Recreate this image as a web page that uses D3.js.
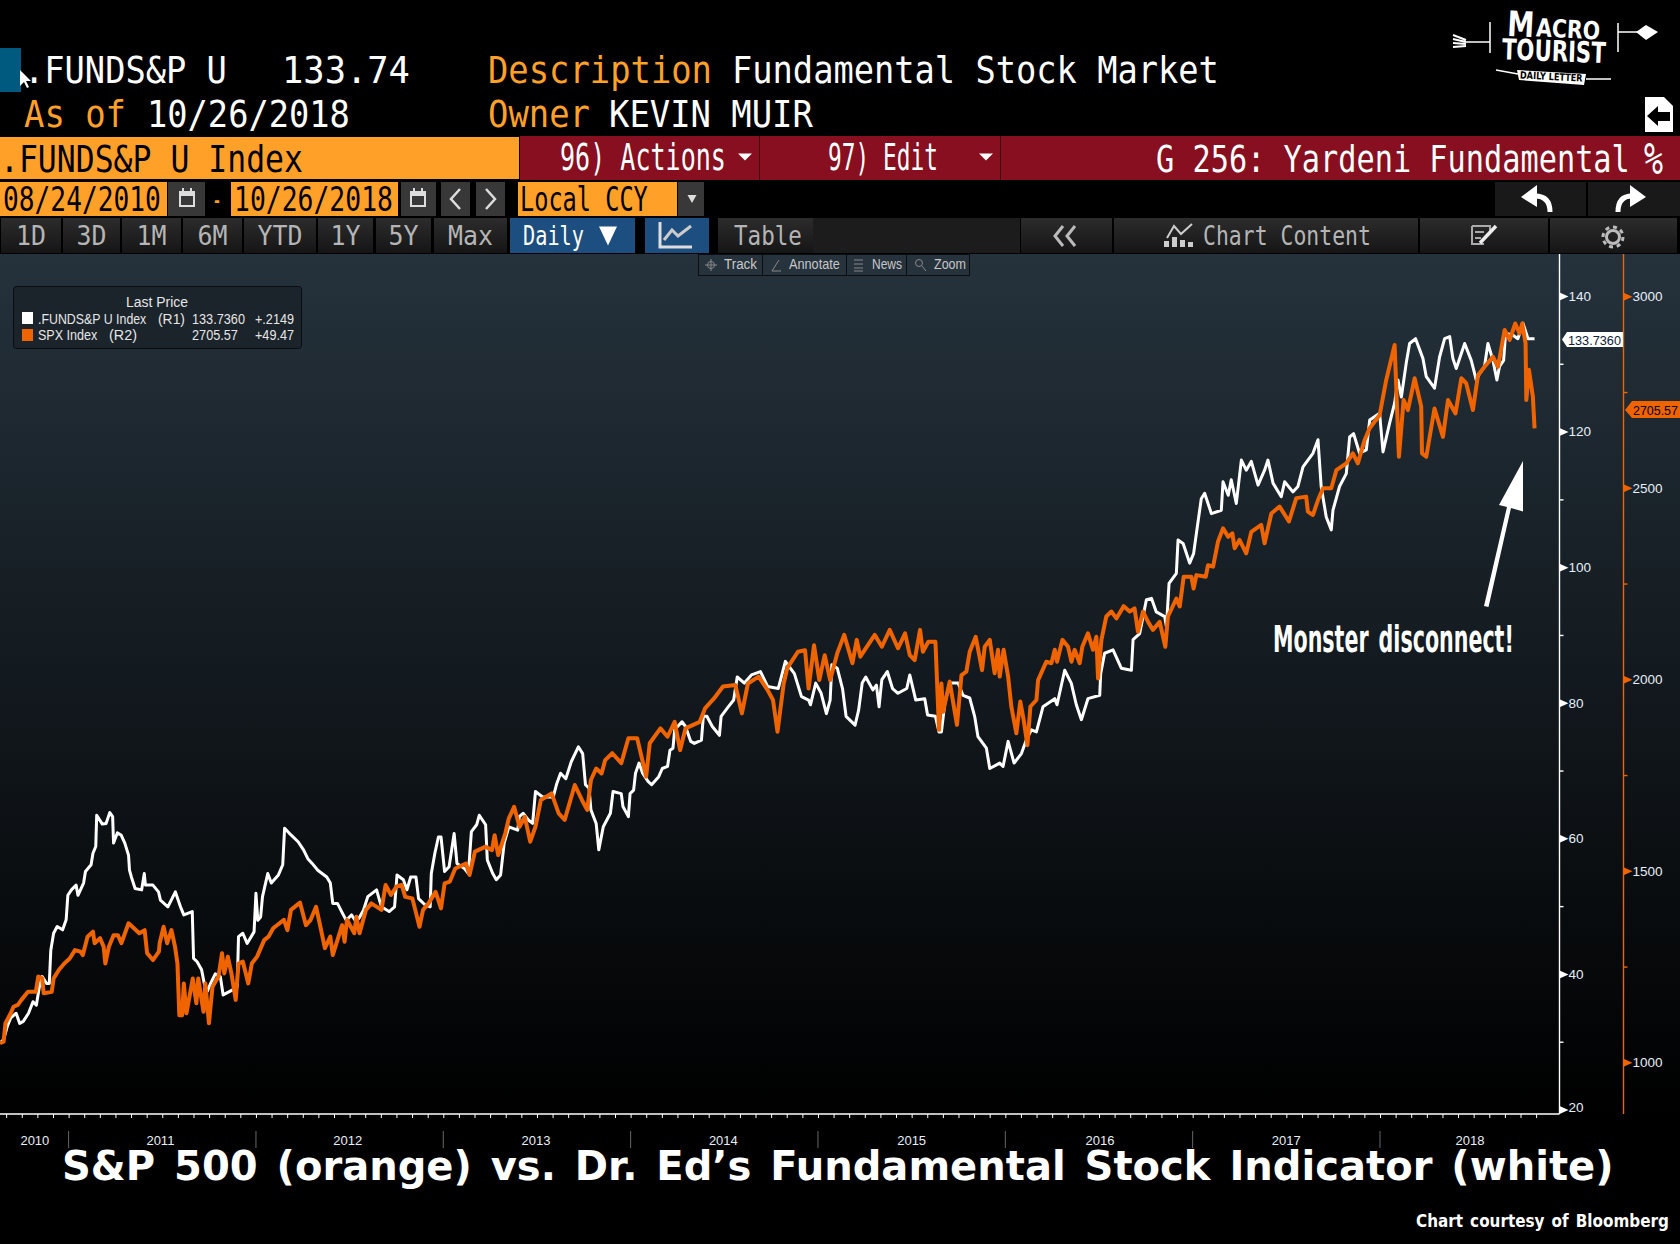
<!DOCTYPE html>
<html>
<head>
<meta charset="utf-8">
<title>S&amp;P 500 vs Fundamental Stock Indicator</title>
<script src="https://cdn.jsdelivr.net/npm/d3@7"></script>
<style>
  html, body { margin: 0; background: #000; }
  svg { display: block; }
</style>
</head>
<body>
<div id="chart"></div>
<script>
// values, dates as decimal years
const fundDates = [
  2010.634, 2010.653, 2010.672, 2010.691, 2010.72, 2010.739, 2010.758, 2010.786, 2010.81, 2010.828,
  2010.844, 2010.859, 2010.882, 2010.897, 2010.905, 2010.92, 2010.939, 2010.968, 2010.987, 2010.996,
  2011.015, 2011.04, 2011.05, 2011.08, 2011.09, 2011.12, 2011.13, 2011.145, 2011.15, 2011.18,
  2011.2, 2011.22, 2011.235, 2011.24, 2011.26, 2011.28, 2011.3, 2011.32, 2011.325, 2011.335,
  2011.355, 2011.39, 2011.404, 2011.41, 2011.45, 2011.48, 2011.49, 2011.53, 2011.57, 2011.6,
  2011.615, 2011.66, 2011.667, 2011.686, 2011.71, 2011.724, 2011.74, 2011.758, 2011.783, 2011.81,
  2011.825, 2011.873, 2011.9, 2011.907, 2011.93, 2011.953, 2011.99, 2012.0, 2012.01, 2012.025,
  2012.035, 2012.063, 2012.082, 2012.12, 2012.143, 2012.153, 2012.187, 2012.225, 2012.254, 2012.277,
  2012.3, 2012.33, 2012.378, 2012.397, 2012.41, 2012.435, 2012.463, 2012.482, 2012.51, 2012.53,
  2012.55, 2012.574, 2012.597, 2012.644, 2012.654, 2012.67, 2012.711, 2012.74, 2012.753, 2012.787,
  2012.806, 2012.826, 2012.854, 2012.868, 2012.902, 2012.93, 2012.936, 2012.955, 2012.974, 2012.988,
  2013.007, 2013.031, 2013.058, 2013.073, 2013.111, 2013.134, 2013.15, 2013.178, 2013.192, 2013.226,
  2013.235, 2013.264, 2013.283, 2013.306, 2013.325, 2013.35, 2013.397, 2013.406, 2013.426, 2013.454,
  2013.477, 2013.492, 2013.53, 2013.587, 2013.606, 2013.626, 2013.654, 2013.683, 2013.721, 2013.744,
  2013.759, 2013.778, 2013.788, 2013.816, 2013.83, 2013.854, 2013.892, 2013.906, 2013.95, 2013.959,
  2013.988, 2013.997, 2014.016, 2014.026, 2014.045, 2014.064, 2014.093, 2014.112, 2014.15, 2014.169,
  2014.197, 2014.21, 2014.226, 2014.235, 2014.274, 2014.293, 2014.321, 2014.34, 2014.378, 2014.388,
  2014.407, 2014.436, 2014.474, 2014.483, 2014.521, 2014.55, 2014.569, 2014.607, 2014.645, 2014.693,
  2014.731, 2014.788, 2014.826, 2014.874, 2014.912, 2014.95, 2014.96, 2014.988, 2015.017, 2015.045,
  2015.065, 2015.074, 2015.103, 2015.131, 2015.15, 2015.198, 2015.217, 2015.236, 2015.255, 2015.293,
  2015.312, 2015.326, 2015.341, 2015.37, 2015.398, 2015.427, 2015.474, 2015.49, 2015.522, 2015.57,
  2015.585, 2015.627, 2015.646, 2015.659, 2015.677, 2015.703, 2015.748, 2015.774, 2015.81, 2015.837,
  2015.854, 2015.899, 2015.917, 2015.97, 2015.988, 2016.015, 2016.047, 2016.086, 2016.112, 2016.139,
  2016.166, 2016.201, 2016.264, 2016.276, 2016.317, 2016.352, 2016.379, 2016.406, 2016.441, 2016.504,
  2016.509, 2016.53, 2016.575, 2016.619, 2016.673, 2016.682, 2016.717, 2016.753, 2016.78, 2016.806,
  2016.851, 2016.86, 2016.874, 2016.913, 2016.922, 2016.949, 2016.984, 2017.005, 2017.02, 2017.046,
  2017.064, 2017.1, 2017.153, 2017.162, 2017.19, 2017.206, 2017.233, 2017.26, 2017.286, 2017.313,
  2017.349, 2017.384, 2017.402, 2017.429, 2017.473, 2017.491, 2017.535, 2017.562, 2017.589, 2017.642,
  2017.669, 2017.686, 2017.713, 2017.74, 2017.749, 2017.784, 2017.82, 2017.838, 2017.859, 2017.891,
  2017.927, 2017.945, 2017.998, 2018.016, 2018.051, 2018.078, 2018.096, 2018.114, 2018.14, 2018.158,
  2018.19, 2018.229, 2018.247, 2018.291, 2018.318, 2018.345, 2018.372, 2018.389, 2018.407, 2018.452,
  2018.487, 2018.514, 2018.532, 2018.558, 2018.576, 2018.603, 2018.624, 2018.638, 2018.66, 2018.67,
  2018.71, 2018.736, 2018.763, 2018.79, 2018.825,
];
const fundValues = [
  29.8, 30.3, 32.2, 33.5, 34.2, 32.7, 33.0, 34.2, 35.9, 35.4,
  38.1, 39.6, 38.6, 38.6, 43.5, 46.0, 47.0, 46.5, 48.0, 51.6,
  52.4, 53.1, 51.6, 53.4, 55.1, 56.1, 57.8, 58.8, 63.4, 62.1,
  62.2, 63.8, 63.2, 59.3, 60.8, 60.5, 59.3, 57.5, 55.3, 54.3,
  52.6, 52.4, 54.8, 53.1, 53.1, 52.1, 50.9, 49.9, 52.1, 49.7,
  48.7, 49.2, 42.3, 41.8, 40.6, 38.6, 37.4, 38.6, 40.0, 39.6,
  36.9, 37.6, 38.1, 45.5, 46.0, 44.5, 46.2, 51.9, 47.9, 48.4,
  51.4, 54.8, 53.4, 54.6, 56.1, 61.5, 60.5, 59.5, 58.3, 57.0,
  56.3, 55.3, 54.3, 53.4, 50.4, 50.4, 48.9, 47.9, 48.7, 47.9,
  48.2, 49.4, 51.4, 52.4, 51.4, 49.9, 49.2, 49.9, 54.6, 53.9,
  52.4, 54.3, 54.3, 51.1, 50.2, 49.9, 54.8, 57.8, 60.2, 60.2,
  55.1, 55.8, 60.7, 56.3, 55.6, 54.8, 61.0, 62.0, 63.4, 62.0,
  56.8, 54.8, 53.9, 54.6, 59.3, 61.7, 61.2, 63.2, 63.7, 62.7,
  62.2, 66.9, 66.1, 66.1, 68.1, 69.6, 68.8, 71.3, 73.5, 72.5,
  67.9, 67.4, 64.2, 62.2, 58.3, 61.7, 63.7, 66.9, 66.6, 64.7,
  63.2, 66.6, 67.1, 69.6, 71.1, 69.6, 68.4, 67.9, 69.1, 70.3,
  70.6, 73.0, 73.3, 76.0, 77.2, 76.5, 74.3, 74.0, 74.5, 78.0,
  78.0, 76.5, 75.2, 78.0, 79.4, 80.4, 83.8, 82.9, 84.1, 84.6,
  82.4, 82.1, 86.1, 84.3, 80.9, 80.4, 79.7, 82.9, 81.4, 78.4,
  80.4, 85.6, 85.1, 82.1, 78.0, 76.7, 78.9, 82.9, 83.8, 81.9,
  82.6, 79.4, 83.4, 84.6, 82.1, 81.4, 82.1, 84.1, 80.4, 80.6,
  78.2, 78.0, 75.7, 75.7, 79.9, 82.9, 82.9, 81.1, 80.7, 77.9,
  75.0, 73.3, 70.3, 71.1, 70.6, 74.3, 71.1, 72.5, 74.5, 76.0,
  75.7, 79.4, 80.6, 79.7, 84.8, 82.9, 79.7, 77.5, 80.6, 81.1,
  84.3, 87.3, 87.8, 85.1, 84.8, 89.3, 90.2, 95.2, 95.4, 93.4,
  92.7, 91.2, 97.6, 99.1, 104.0, 103.5, 100.6, 102.0, 105.0, 110.1,
  110.9, 107.9, 108.4, 112.6, 110.6, 112.9, 109.4, 115.8, 114.3, 115.6,
  112.1, 114.3, 115.8, 112.4, 110.4, 112.6, 111.1, 111.9, 114.8, 116.8,
  118.8, 111.9, 107.4, 105.5, 108.4, 111.9, 113.8, 119.2, 119.7, 116.8,
  117.3, 121.7, 122.7, 117.0, 121.2, 124.2, 127.6, 125.1, 130.1, 133.0,
  133.7, 130.8, 128.1, 126.4, 131.0, 133.7, 134.0, 130.8, 129.3, 133.0,
  130.5, 127.6, 128.6, 129.6, 133.0, 130.5, 127.6, 129.6, 130.5, 134.5,
  134.2, 133.7, 136.0, 133.7, 133.7,
];
const spxDates = [
  2010.634, 2010.653, 2010.663, 2010.691, 2010.706, 2010.729, 2010.748, 2010.783, 2010.825, 2010.838,
  2010.859, 2010.867, 2010.91, 2010.92, 2010.948, 2010.977, 2011.006, 2011.034, 2011.063, 2011.076,
  2011.101, 2011.13, 2011.139, 2011.168, 2011.187, 2011.196, 2011.215, 2011.24, 2011.263, 2011.282,
  2011.32, 2011.349, 2011.377, 2011.406, 2011.419, 2011.45, 2011.482, 2011.486, 2011.507, 2011.526,
  2011.549, 2011.568, 2011.581, 2011.591, 2011.606, 2011.615, 2011.629, 2011.663, 2011.682, 2011.692,
  2011.72, 2011.73, 2011.749, 2011.768, 2011.8, 2011.819, 2011.831, 2011.85, 2011.869, 2011.892,
  2011.907, 2011.93, 2011.959, 2011.978, 2012.006, 2012.044, 2012.067, 2012.092, 2012.149, 2012.168,
  2012.187, 2012.235, 2012.267, 2012.292, 2012.321, 2012.34, 2012.368, 2012.397, 2012.41, 2012.435,
  2012.46, 2012.473, 2012.486, 2012.525, 2012.536, 2012.553, 2012.587, 2012.616, 2012.67, 2012.692,
  2012.721, 2012.75, 2012.778, 2012.797, 2012.835, 2012.873, 2012.892, 2012.921, 2012.959, 2012.988,
  2013.007, 2013.035, 2013.064, 2013.121, 2013.14, 2013.169, 2013.226, 2013.26, 2013.274, 2013.293,
  2013.331, 2013.35, 2013.378, 2013.407, 2013.435, 2013.464, 2013.492, 2013.521, 2013.578, 2013.616,
  2013.648, 2013.702, 2013.74, 2013.768, 2013.788, 2013.816, 2013.845, 2013.864, 2013.902, 2013.95,
  2013.988, 2014.035, 2014.083, 2014.102, 2014.159, 2014.197, 2014.235, 2014.264, 2014.293, 2014.369,
  2014.397, 2014.445, 2014.493, 2014.559, 2014.594, 2014.626, 2014.683, 2014.731, 2014.76, 2014.784,
  2014.817, 2014.836, 2014.893, 2014.931, 2014.95, 2014.979, 2015.007, 2015.036, 2015.065, 2015.103,
  2015.14, 2015.184, 2015.207, 2015.226, 2015.303, 2015.341, 2015.383, 2015.427, 2015.465, 2015.49,
  2015.516, 2015.545, 2015.56, 2015.589, 2015.627, 2015.646, 2015.659, 2015.668, 2015.703, 2015.742,
  2015.766, 2015.792, 2015.81, 2015.842, 2015.876, 2015.89, 2015.917, 2015.943, 2015.961, 2015.97,
  2015.991, 2016.015, 2016.032, 2016.059, 2016.08, 2016.098, 2016.118, 2016.134, 2016.166, 2016.175,
  2016.219, 2016.246, 2016.264, 2016.276, 2016.305, 2016.335, 2016.353, 2016.37, 2016.397, 2016.411,
  2016.441, 2016.468, 2016.486, 2016.495, 2016.513, 2016.539, 2016.566, 2016.593, 2016.632, 2016.664,
  2016.69, 2016.708, 2016.735, 2016.762, 2016.788, 2016.824, 2016.854, 2016.868, 2016.913, 2016.931,
  2016.952, 2016.993, 2017.005, 2017.02, 2017.07, 2017.082, 2017.109, 2017.135, 2017.162, 2017.19,
  2017.212, 2017.224, 2017.25, 2017.286, 2017.313, 2017.366, 2017.384, 2017.42, 2017.464, 2017.514,
  2017.553, 2017.606, 2017.615, 2017.642, 2017.669, 2017.696, 2017.74, 2017.767, 2017.82, 2017.855,
  2017.882, 2017.918, 2017.944, 2017.998, 2018.033, 2018.078, 2018.101, 2018.126, 2018.149, 2018.185,
  2018.22, 2018.224, 2018.247, 2018.291, 2018.336, 2018.363, 2018.403, 2018.434, 2018.46, 2018.496,
  2018.523, 2018.558, 2018.603, 2018.63, 2018.665, 2018.692, 2018.722, 2018.745, 2018.759, 2018.777,
  2018.781, 2018.795, 2018.816, 2018.825,
];
const spxValues = [
  1050, 1054, 1102, 1128, 1145, 1150, 1163, 1184, 1184, 1224,
  1219, 1180, 1184, 1219, 1241, 1258, 1271, 1293, 1289, 1280,
  1328, 1341, 1311, 1324, 1302, 1258, 1302, 1332, 1332, 1311,
  1363, 1350, 1337, 1345, 1285, 1267, 1289, 1311, 1354, 1311,
  1345, 1302, 1258, 1123, 1123, 1206, 1128, 1219, 1154, 1219,
  1132, 1206, 1102, 1197, 1224, 1285, 1232, 1276, 1232, 1163,
  1258, 1263, 1206, 1258, 1276, 1319, 1328, 1350, 1372, 1345,
  1398, 1417, 1358, 1372, 1406, 1363, 1298, 1328, 1280, 1319,
  1358, 1315, 1372, 1337, 1380, 1337, 1398, 1415, 1398, 1463,
  1437, 1459, 1463, 1432, 1428, 1354, 1398, 1415, 1445, 1402,
  1467, 1472, 1506, 1519, 1489, 1550, 1563, 1554, 1593, 1541,
  1598, 1637, 1667, 1615, 1641, 1576, 1615, 1685, 1702, 1650,
  1633, 1724, 1685, 1659, 1737, 1767, 1754, 1789, 1807, 1781,
  1846, 1846, 1746, 1833, 1872, 1850, 1889, 1815, 1872, 1889,
  1924, 1950, 1981, 1985, 1911, 1989, 2007, 1972, 1946, 1863,
  1989, 2029, 2072, 2076, 1976, 2089, 1998, 2063, 1998, 2068,
  2116, 2042, 2103, 2059, 2116, 2085, 2129, 2081, 2120, 2063,
  2050, 2129, 2072, 2098, 2098, 1868, 1989, 1915, 1994, 1881,
  2011, 2020, 2072, 2111, 2024, 2085, 2103, 2016, 2077, 2007,
  2077, 2007, 1929, 1859, 1942, 1894, 1828, 1929, 1946, 1998,
  2046, 2042, 2077, 2046, 2103, 2085, 2046, 2077, 2042, 2085,
  2120, 2077, 2111, 2002, 2103, 2164, 2177, 2159, 2191, 2177,
  2185, 2124, 2177, 2150, 2129, 2150, 2085, 2164, 2211, 2190,
  2268, 2268, 2237, 2272, 2268, 2298, 2294, 2359, 2394, 2372,
  2381, 2342, 2364, 2329, 2385, 2403, 2355, 2433, 2451, 2412,
  2473, 2477, 2438, 2429, 2468, 2499, 2499, 2546, 2564, 2590,
  2564, 2625, 2655, 2690, 2781, 2873, 2581, 2729, 2703, 2786,
  2712, 2590, 2581, 2707, 2633, 2729, 2694, 2786, 2773, 2703,
  2794, 2816, 2842, 2816, 2912, 2886, 2929, 2903, 2929, 2877,
  2729, 2808, 2738, 2655,
];
const fundAxisTicks = [20, 30, 40, 50, 60, 70, 80, 90, 100, 110, 120, 130, 140];
const fundAxisLabels = [20, 40, 60, 80, 100, 120, 140];
const spxAxisTicks = [1000, 1250, 1500, 1750, 2000, 2250, 2500, 2750, 3000];
const spxAxisLabels = [1000, 1500, 2000, 2500, 3000];
const yearBreaks = [2011, 2012, 2013, 2014, 2015, 2016, 2017, 2018];
const yearLabels = ['2010', '2011', '2012', '2013', '2014', '2015', '2016', '2017', '2018'];
const yearLabelAt = [2010.82, 2011.49, 2012.49, 2013.495, 2014.495, 2015.5, 2016.505, 2017.5, 2018.48];
const rangeButtons = ['1D', '3D', '1M', '6M', 'YTD', '1Y', '5Y', 'Max'];
const rangeEdges = [[1, 61], [63, 120], [122, 181], [183, 242], [244, 316], [318, 373], [376, 431], [434, 507]];

const width = 1680;
const height = 1244;
const plotTop = 254;
const plotBottom = 1114;
const monoFont = '"DejaVu Sans Mono", monospace';
const sansFont = '"Liberation Sans", Arial, sans-serif';
const boldFont = '"DejaVu Sans", sans-serif';
const amber = '#ffa028';
const crimson = '#870f1f';
const flame = '#f06400';

const svg = d3.select('#chart').append('svg')
  .attr('width', width)
  .attr('height', height)
  .attr('viewBox', [0, 0, width, height]);

const defs = svg.append('defs');
const plotGrad = defs.append('linearGradient').attr('id', 'plotGrad').attr('x1', 0).attr('x2', 0).attr('y1', 0).attr('y2', 1);
plotGrad.append('stop').attr('offset', 0).attr('stop-color', '#25323c');
plotGrad.append('stop').attr('offset', 1).attr('stop-color', '#000');
const btnGrad = defs.append('linearGradient').attr('id', 'btnGrad').attr('x1', 0).attr('x2', 0).attr('y1', 0).attr('y2', 1);
btnGrad.append('stop').attr('offset', 0).attr('stop-color', '#2c2c2c');
btnGrad.append('stop').attr('offset', 1).attr('stop-color', '#151515');

svg.append('rect').attr('width', width).attr('height', height).attr('fill', '#000');
svg.append('rect').attr('y', plotTop).attr('width', width).attr('height', plotBottom - plotTop).attr('fill', 'url(#plotGrad)');

// text squeezed between two x positions, the terminal font is much narrower than anything installed
function label(g, str, x0, x1, base, size, fill, family = monoFont, weight = 'normal', wordGap = 0) {
  const t = g.append('text')
    .attr('font-family', family)
    .attr('font-size', size)
    .attr('font-weight', weight)
    .attr('fill', fill)
    .attr('word-spacing', wordGap)
    .text(str);
  const w = t.node().getBBox().width;
  t.attr('transform', `translate(${x0},${base}) scale(${(x1 - x0) / w},1)`);
  return t;
}

function box(g, x0, x1, y0, y1, fill) {
  return g.append('rect').attr('x', x0).attr('y', y0).attr('width', x1 - x0).attr('height', y1 - y0).attr('fill', fill);
}

function triangle(g, cx, cy, w, h, fill) {
  g.append('path')
    .attr('d', `M${cx - w / 2},${cy - h / 2}L${cx + w / 2},${cy - h / 2}L${cx},${cy + h / 2}Z`)
    .attr('fill', fill);
}

function stroke(g, d, color, w) {
  return g.append('path').attr('d', d).attr('fill', 'none').attr('stroke', color).attr('stroke-width', w);
}

// ---- header ----
const header = svg.append('g');
box(header, 0, 21, 48, 92, '#005a80');
header.append('path').attr('d', 'M20,70L20,86L24,82L27,88L29,87L26,81L31,81Z').attr('fill', '#fff');
label(header, '.FUNDS&P U', 24, 227, 83, 38, '#fff');
label(header, '133.74', 282, 410, 83, 38, '#fff');
label(header, 'Description', 488, 712, 83, 38, amber);
label(header, 'Fundamental Stock Market', 732, 1219, 83, 38, '#fff');
label(header, 'As of', 24, 126, 127, 38, amber);
label(header, '10/26/2018', 147, 350, 127, 38, '#fff');
label(header, 'Owner', 488, 590, 127, 38, amber);
label(header, 'KEVIN MUIR', 609, 813, 127, 38, '#fff');

box(header, 0, 519, 137, 179, amber);
label(header, '.FUNDS&P U Index', 0, 303, 172, 38, '#000');
box(header, 520, 1680, 136, 180, crimson);
box(header, 759, 760, 136, 180, '#3d0810');
box(header, 1000, 1001, 136, 180, '#3d0810');
label(header, '96) Actions', 560, 726, 170, 38, '#fff');
triangle(header, 745, 157, 14, 7, '#fff');
label(header, '97) Edit', 828, 938, 170, 38, '#fff');
triangle(header, 986, 157, 14, 7, '#fff');
label(header, 'G 256: Yardeni Fundamental', 1156, 1630, 172, 38, '#fff');
label(header, '%', 1644, 1663, 174, 44, '#fff');

// date row
box(header, 0, 167, 182, 216, amber);
label(header, '08/24/2010', 3, 161, 211, 33, '#000');
box(header, 231, 398, 182, 216, amber);
label(header, '10/26/2018', 234, 393, 211, 33, '#000');
label(header, '-', 212, 222, 211, 33, amber);
box(header, 518, 677, 182, 216, amber);
label(header, 'Local CCY', 520, 648, 211, 33, '#000');
[[168, 205], [401, 436], [441, 470], [476, 505], [678, 704], [1495, 1586], [1588, 1680]].forEach(([a, b]) => {
  box(header, a, b, 182, 216, a > 1000 ? '#191919' : '#383838');
});
[187, 418].forEach((cx) => {
  box(header, cx - 8, cx + 8, 191, 207, '#ddd');
  box(header, cx - 6, cx + 6, 196, 205, '#383838');
  box(header, cx - 5, cx - 3, 188, 193, '#ddd');
  box(header, cx + 3, cx + 5, 188, 193, '#ddd');
});
stroke(header, 'M460,189L451,199L460,209', '#ddd', 2.5);
stroke(header, 'M486,189L495,199L486,209', '#ddd', 2.5);
triangle(header, 692, 199, 9, 8, '#ddd');
// undo, redo
header.append('path').attr('d', 'M1521,197L1537,185L1537,207Z').attr('fill', '#fff');
stroke(header, 'M1535,196Q1550,196 1550,212', '#fff', 5);
header.append('path').attr('d', 'M1646,197L1630,185L1630,207Z').attr('fill', '#fff');
stroke(header, 'M1632,196Q1618,196 1618,212', '#fff', 5);

// toolbar row
rangeButtons.forEach((name, i) => {
  const [a, b] = rangeEdges[i];
  box(header, a, b, 218, 253, 'url(#btnGrad)');
  const w = name.length * 15;
  label(header, name, (a + b - w) / 2, (a + b + w) / 2, 245, 27, '#b5b5b5');
});
box(header, 510, 635, 218, 253, '#1d4e80');
label(header, 'Daily', 523, 584, 245, 27, '#fff');
triangle(header, 608, 236, 18, 19, '#fff');
box(header, 645, 709, 218, 253, '#1d4e80');
stroke(header, 'M660,222L660,247L692,247', '#ddd', 3);
stroke(header, 'M664,240L672,230L678,236L691,226', '#ccc', 3);
box(header, 718, 813, 218, 253, 'url(#btnGrad)');
label(header, 'Table', 734, 802, 245, 27, '#b5b5b5');
box(header, 813, 1020, 218, 253, '#1c1c1c');
[[1021, 1112], [1114, 1418], [1420, 1548], [1550, 1677]].forEach(([a, b]) => box(header, a, b, 218, 253, 'url(#btnGrad)'));
stroke(header, 'M1063,226L1055,236L1063,246M1075,226L1067,236L1075,246', '#bbb', 3);
stroke(header, 'M1167,238L1174,226L1181,234L1192,224', '#ccc', 2);
[[1167, 6], [1175, 10], [1183, 7], [1191, 5]].forEach(([bx, bh]) => box(header, bx - 3, bx + 2, 247 - bh, 247, '#ccc'));
label(header, 'Chart Content', 1203, 1371, 245, 27, '#b5b5b5');
stroke(header, 'M1472,226L1490,226L1490,232M1472,226L1472,244L1484,244M1475,232L1484,232M1475,238L1481,238', '#aaa', 2);
stroke(header, 'M1480,243L1496,226', '#eee', 3.5);
header.append('circle').attr('cx', 1613).attr('cy', 237).attr('r', 6.5).attr('fill', 'none').attr('stroke', '#bbb').attr('stroke-width', 3);
header.append('circle').attr('cx', 1613).attr('cy', 237).attr('r', 10).attr('fill', 'none').attr('stroke', '#bbb').attr('stroke-width', 3).attr('stroke-dasharray', '4 3.8');

// logo
const logo = svg.append('g');
const logoTop = logo.append('g').attr('transform', 'rotate(3 1550 30)');
label(logoTop, 'M', 1507, 1534, 38, 35, '#fff', boldFont, 'bold');
label(logoTop, 'ACRO', 1536, 1600, 37, 25, '#fff', boldFont, 'bold');
const logoMid = logo.append('g').attr('transform', 'rotate(2 1550 50)');
label(logoMid, 'TOURIST', 1502, 1606, 61, 29, '#fff', boldFont, 'bold');
stroke(logo, 'M1490,22L1490,53M1466,42L1490,42M1618,23L1618,52M1618,32L1640,32', '#fff', 1.5);
stroke(logo, 'M1453,35L1466,40M1453,39L1466,42M1453,43L1466,44M1453,47L1466,46', '#fff', 2);
logo.append('path').attr('d', 'M1636,32L1646,25L1658,32L1646,40Z').attr('fill', '#fff');
logo.append('path').attr('d', 'M1517,70L1586,74L1584,85L1519,80Z').attr('fill', '#fff');
stroke(logo, 'M1496,70L1518,74M1586,79L1611,79', '#fff', 1.5);
const logoTag = logo.append('g').attr('transform', 'rotate(3 1550 76)');
label(logoTag, 'DAILY LETTER', 1520, 1583, 80, 10, '#000', boldFont, 'bold');
// back page icon
logo.append('path').attr('d', 'M1645,97L1664,97L1673,106L1673,132L1645,132Z').attr('fill', '#fff');
logo.append('path').attr('d', 'M1647,116L1658,106L1658,112L1670,112L1670,121L1658,121L1658,126Z').attr('fill', '#000');

// ---- chart ----
const x = d3.scaleLinear().domain([2011, 2018]).range([68.6, 1380]);
const yFund = d3.scaleLinear().domain([20, 140]).range([1109.5, 296]);
const ySpx = d3.scaleLinear().domain([1000, 3000]).range([1062.3, 296.3]);
const fundAxisX = 1559.5;
const spxAxisX = 1623.5;

const fundLine = d3.line().x((d) => x(d[0])).y((d) => yFund(d[1]));
const spxLine = d3.line().x((d) => x(d[0])).y((d) => ySpx(d[1]));

svg.append('path')
  .attr('d', fundLine(d3.zip(fundDates, fundValues)))
  .attr('fill', 'none')
  .attr('stroke', '#fff')
  .attr('stroke-width', 3)
  .attr('stroke-linejoin', 'round');

svg.append('path')
  .attr('d', spxLine(d3.zip(spxDates, spxValues)))
  .attr('fill', 'none')
  .attr('stroke', flame)
  .attr('stroke-width', 4)
  .attr('stroke-linejoin', 'round');

function rightAxis(scale, ticks, shown, left, color) {
  const g = svg.append('g')
    .attr('transform', `translate(${left},0)`)
    .call(d3.axisRight(scale)
      .tickValues(ticks)
      .tickSize(4)
      .tickPadding(5)
      .tickFormat((d) => (shown.includes(d) ? d : '')));
  g.select('.domain').remove();
  g.selectAll('.tick line').attr('stroke', color).attr('stroke-width', 1.4);
  g.selectAll('.tick text')
    .attr('fill', '#e6eef6')
    .attr('font-family', sansFont)
    .attr('font-size', 13.5);
  g.selectAll('.tick')
    .filter((d) => shown.includes(d))
    .append('path')
    .attr('d', 'M0,-4L9,0L0,4Z')
    .attr('fill', color);
  g.append('line').attr('y1', plotTop).attr('y2', plotBottom).attr('stroke', color).attr('stroke-width', 1.4);
  return g;
}
const fundAxis = rightAxis(yFund, fundAxisTicks, fundAxisLabels, fundAxisX, '#fff');
rightAxis(ySpx, spxAxisTicks, spxAxisLabels, spxAxisX, flame);
// lowest label rides a little above its tick so it clears the bottom line
fundAxis.selectAll('.tick text').filter((d) => d === 20).attr('y', -2.5);

// flags with the last price on each axis
svg.append('path').attr('d', 'M1562,339.5L1567,332L1623,332L1623,347L1567,347Z').attr('fill', '#fff');
label(svg, '133.7360', 1568, 1621, 344.5, 13.5, '#0c2238', sansFont);
svg.append('path').attr('d', 'M1625,410L1632,401L1680,401L1680,418L1632,418Z').attr('fill', flame);
label(svg, '2705.57', 1633, 1678, 415, 13.5, '#000', sansFont);

// months along the bottom
const monthTicks = d3.range(0, 99).map((i) => 2010 + (8 + i) / 12);
const bottom = svg.append('g')
  .attr('transform', `translate(0,${plotBottom})`)
  .call(d3.axisBottom(x).tickValues(monthTicks).tickSize(4).tickFormat(''));
bottom.select('.domain').remove();
bottom.selectAll('.tick line').attr('stroke', '#fff').attr('stroke-width', 1);
bottom.append('line').attr('x2', fundAxisX).attr('stroke', '#fff').attr('stroke-width', 1.4);

svg.append('g').selectAll('line').data(yearBreaks).join('line')
  .attr('x1', (d) => x(d))
  .attr('x2', (d) => x(d))
  .attr('y1', 1131)
  .attr('y2', 1148)
  .attr('stroke', '#666');

svg.append('g').selectAll('text').data(yearLabels).join('text')
  .attr('x', (d, i) => x(yearLabelAt[i]))
  .attr('y', 1145)
  .attr('text-anchor', 'middle')
  .attr('font-family', sansFont)
  .attr('font-size', 13)
  .attr('fill', '#e6eef6')
  .text((d) => d);

// track / annotate strip
const strip = svg.append('g');
box(strip, 698, 970, 254, 276, '#0a0e12');
[[699, 762], [763, 846], [847, 906], [907, 969]].forEach(([a, b]) => box(strip, a, b, 255, 275, '#26323c'));
label(strip, 'Track', 724, 758, 269, 14, '#c8c8c8', sansFont);
label(strip, 'Annotate', 789, 840, 269, 14, '#c8c8c8', sansFont);
label(strip, 'News', 872, 902, 269, 14, '#c8c8c8', sansFont);
label(strip, 'Zoom', 934, 966, 269, 14, '#c8c8c8', sansFont);
strip.append('circle').attr('cx', 711).attr('cy', 265).attr('r', 3.5).attr('fill', 'none').attr('stroke', '#888');
stroke(strip, 'M711,259L711,271M705,265L717,265', '#888', 1);
stroke(strip, 'M772,271L779,260M772,271L781,271', '#888', 1);
stroke(strip, 'M854,260L863,260M854,264L863,264M854,268L863,268M854,271L863,271', '#888', 1);
strip.append('circle').attr('cx', 919).attr('cy', 263).attr('r', 3.5).attr('fill', 'none').attr('stroke', '#888');
stroke(strip, 'M922,266L926,271', '#888', 1);

// legend
const legend = svg.append('g');
legend.append('rect').attr('x', 13.5).attr('y', 286.5).attr('width', 288).attr('height', 62).attr('rx', 3)
  .attr('fill', '#1b232b').attr('stroke', '#0a0d10');
label(legend, 'Last Price', 126, 188, 307, 14.5, '#e6e6e6', sansFont);
box(legend, 22, 33, 312, 324, '#fff');
label(legend, '.FUNDS&P U Index', 38, 147, 324, 14.5, '#e6e6e6', sansFont);
label(legend, '(R1)', 158, 185, 324, 14.5, '#e6e6e6', sansFont);
label(legend, '133.7360', 192, 245, 324, 14.5, '#e6e6e6', sansFont);
label(legend, '+.2149', 255, 294, 324, 14.5, '#e6e6e6', sansFont);
box(legend, 22, 33, 329, 341, flame);
label(legend, 'SPX Index', 38, 98, 340, 14.5, '#e6e6e6', sansFont);
label(legend, '(R2)', 109, 137, 340, 14.5, '#e6e6e6', sansFont);
label(legend, '2705.57', 192, 238, 340, 14.5, '#e6e6e6', sansFont);
label(legend, '+49.47', 255, 294, 340, 14.5, '#e6e6e6', sansFont);

// annotation and captions
const notes = svg.append('g');
label(notes, 'Monster disconnect!', 1273, 1514, 652, 37, '#fff', boldFont, 'bold', 5);
notes.append('path')
  .attr('d', 'M1484,606L1488.5,607L1511,508L1523,511.5L1523,461L1499,505L1507,507Z')
  .attr('fill', '#fff');
label(notes, 'S&P 500 (orange) vs. Dr. Ed\u2019s Fundamental Stock Indicator (white)', 62, 1614, 1180, 40, '#fff', boldFont, 'bold', 5);
label(notes, 'Chart courtesy of Bloomberg', 1416, 1669, 1227, 17, '#fff', boldFont, 'bold', 2);
</script>
</body>
</html>
